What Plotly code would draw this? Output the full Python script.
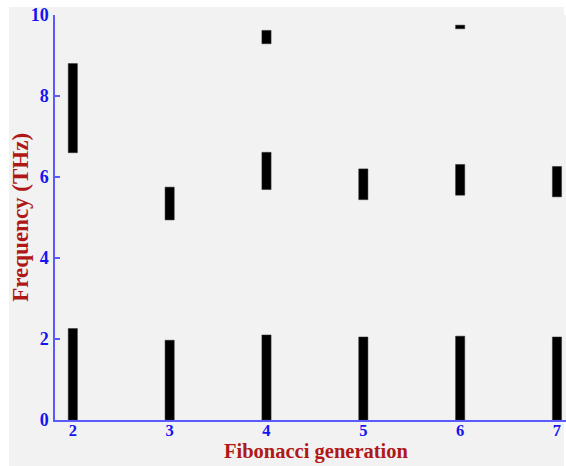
import plotly.graph_objects as go

# Data
generations = [2, 3, 4, 5, 6, 7]
band1_low = [0, 0, 0, 0, 0, 0]
band1_high = [2.26, 1.97, 2.10, 2.05, 2.07, 2.05]
band2_low = [6.60, 4.94, 5.69, 5.44, 5.55, 5.51]
band2_high = [8.80, 5.75, 6.61, 6.20, 6.31, 6.26]
band3_gens = [4, 6]
band3_low = [9.29, 9.66]
band3_high = [9.62, 9.75]
x_ticks = [2, 3, 4, 5, 6, 7]
y_ticks = [0, 2, 4, 6, 8, 10]
x_title = "Fibonacci generation"
y_title = "Frequency (THz)"

BAR_W = 0.095
BAR_STYLE = dict(color="black", line=dict(color="#333333", width=0.5))

fig = go.Figure()
for xs, lo, hi, name in [
    (generations, band1_low, band1_high, "Band 1"),
    (generations, band2_low, band2_high, "Band 2"),
    (band3_gens, band3_low, band3_high, "Band 3"),
]:
    fig.add_trace(go.Bar(
        x=xs,
        y=[h - l for h, l in zip(hi, lo)],
        base=lo,
        width=BAR_W,
        marker=BAR_STYLE,
        name=name,
        showlegend=False,
    ))

xtick_font = dict(family="Liberation Serif", size=16.5, color="#1515ee", weight="bold")
ytick_font = dict(family="Liberation Serif", size=18, color="#1515ee", weight="bold")
xtitle_font = dict(family="Liberation Serif", size=20.5, color="#b01818", weight="bold")
ytitle_font = dict(family="Liberation Serif", size=23, color="#b01818", weight="bold")

T, B = 15, 46
PLOT_H = 466 - T - B

fig.update_layout(
    width=566, height=466,
    margin=dict(l=55, r=0, t=T, b=B),
    paper_bgcolor="white",
    plot_bgcolor="#f2f2f2",
    barmode="overlay",
    shapes=[dict(type="rect", xref="paper", yref="paper",
                 x0=-0.09, x1=0.996, y0=-B / PLOT_H - 0.01, y1=1 + 8 / PLOT_H,
                 fillcolor="#f2f2f2", line=dict(width=0), layer="below")],
    xaxis=dict(
        range=[1.816, 7.093],
        tickvals=x_ticks,
        ticks="",
        showgrid=False, zeroline=False,
        showline=True, linecolor="#5a5aff", linewidth=1.5,
        tickfont=xtick_font,
        ticklabelstandoff=-6,
    ),
    yaxis=dict(
        range=[0, 10],
        tickvals=y_ticks,
        ticks="inside", ticklen=5, tickcolor="#5a5aff", tickwidth=1.5,
        showgrid=False, zeroline=False,
        showline=True, linecolor="#5a5aff", linewidth=1.5,
        tickfont=ytick_font,
        ticklabelstandoff=1,
    ),
    annotations=[
        dict(text=x_title, xref="paper", yref="paper",
             x=0.511, y=-(B - 0.5) / PLOT_H, xanchor="center", yanchor="bottom",
             showarrow=False, font=xtitle_font),
        dict(text=y_title, xref="paper", yref="paper",
             x=-0.068, y=0.5, xanchor="center", yanchor="middle",
             textangle=-90, showarrow=False, font=ytitle_font),
    ],
)

fig.write_html("out.html")
